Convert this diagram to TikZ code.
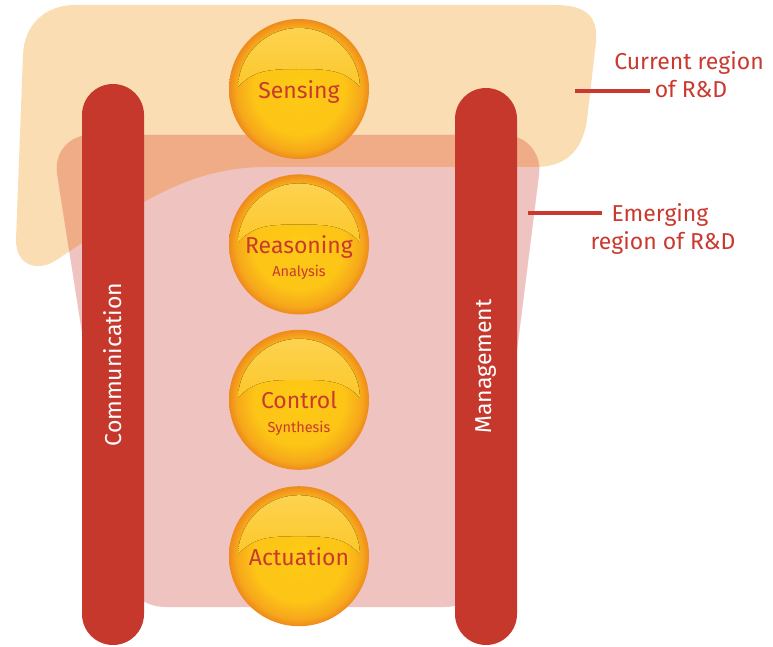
\documentclass[tikz,border=0pt]{standalone}
\usepackage{fontspec}
\setmainfont{Fira Sans}
\usetikzlibrary{positioning}
\definecolor{curfill}{HTML}{FADDB3}
\definecolor{emfill}{HTML}{EEC3C0}
\definecolor{overfill}{HTML}{EFAC86}
\definecolor{barred}{HTML}{C6372C}
\definecolor{txtred}{HTML}{C9392F}
\definecolor{ballrim}{HTML}{EE8A1C}
\definecolor{ballmid}{HTML}{F6A71B}
\definecolor{ballyellow}{HTML}{FDC616}
\definecolor{ballcore}{HTML}{FDCC14}
\definecolor{glosstop}{HTML}{FDD558}
\definecolor{glossbot}{HTML}{FCC72A}
\pgfdeclareradialshading{ballshade}{\pgfpoint{0bp}{0bp}}{color(0bp)=(ballcore); color(9bp)=(ballyellow); color(16bp)=(ballyellow); color(22.5bp)=(ballmid); color(25bp)=(ballrim); color(50bp)=(ballrim)}
\def\curregion{(75,5) -- (555,5) .. controls (588,5) and (598,18) .. (596,42) -- (587,120) .. controls (582,152) and (565,167) .. (535,167) -- (265,167) .. controls (175,167) and (115,222) .. (58,259) .. controls (38,273) and (16,266) .. (16,240) -- (23,55) .. controls (24,25) and (45,5) .. (75,5) -- cycle}
\def\emregion{(300,135) -- (544,135) -- (485,607) -- (125,607) -- (51,135) -- cycle}
\tikzset{
  ball/.style={circle, minimum size=140pt, inner sep=0pt, shading=ballshade},
  gloss/.style={top color=glosstop, bottom color=glossbot},
  bar/.style={rotate=90, fill=barred, rounded corners=31pt, minimum height=62pt, inner sep=0pt, text=white, font=\fontsize{23}{27}\selectfont},
  balltxt/.style={anchor=base, inner sep=0pt, text=txtred, font=\fontsize{23}{27}\selectfont},
  subtxt/.style={balltxt, font=\fontsize{14.5}{17}\selectfont},
  lbl/.style={balltxt},
  leader/.style={draw=txtred, line width=3.5pt}
}
\begin{document}
\begin{tikzpicture}[x=1pt, y=-1pt]
\useasboundingbox (0,0) rectangle (773,647);
\fill[curfill] \curregion;
\fill[emfill, rounded corners=40pt] \emregion;
\begin{scope}
  \clip \curregion;
  \fill[overfill, rounded corners=40pt] \emregion;
\end{scope}
\node[bar, minimum width=561pt] (comm) at (113,364.5) {Communication};
\node[bar, minimum width=557pt] (manage) at (486,366.5) {Management};
\node[ball] (sensing) at (299,89) {};
\node[ball, below=15pt of sensing] (reasoning) {};
\node[ball, below=15pt of reasoning] (control) {};
\node[ball, below=16pt of control] (actuation) {};
\foreach \b in {sensing, reasoning, control, actuation} {
  \begin{scope}[shift={(\b)}]
    \clip (0,0) circle [radius=61];
    \fill[gloss] (-62,-1) .. controls (-46,-19) and (-30,-20) .. (0,-20) .. controls (30,-20) and (46,-19) .. (62,-1) -- (62,-75) -- (-62,-75) -- cycle;
  \end{scope}
}
\node[balltxt] (sensingtxt) at ([yshift=-10pt]sensing) {Sensing};
\node[balltxt] (reasoningtxt) at ([yshift=-9pt]reasoning) {Reasoning};
\node[subtxt] (analysistxt) at ([yshift=-32pt]reasoning) {Analysis};
\node[balltxt] (controltxt) at ([yshift=-9pt]control) {Control};
\node[subtxt] (synthtxt) at ([yshift=-33pt]control) {Synthesis};
\node[balltxt] (actuationtxt) at ([yshift=-9pt]actuation) {Actuation};
% region labels
\node[lbl] (curtop) at (689,70) {Current region};
\node[lbl] (curbot) at (691,98) {of R\&D};
\node[lbl] (emtop) at (660,222) {Emerging};
\node[lbl] (embot) at (663,249) {region of R\&D};
\coordinate (curtip) at (575,91);
\coordinate (emtip) at (528,213);
\draw[leader, shorten >=5pt] (curtip) -- (curtip -| curbot.west);
\draw[leader, shorten >=9pt] (emtip) -- (emtip -| emtop.west);
\end{tikzpicture}
\end{document}
